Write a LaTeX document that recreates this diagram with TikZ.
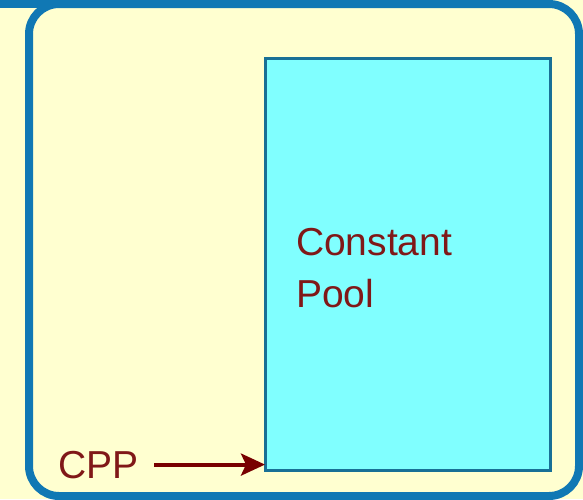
\documentclass[tikz,border=0pt]{standalone}
\usepackage{fontspec}
\setmainfont{Liberation Sans}
\usetikzlibrary{positioning,arrows.meta}
\definecolor{paper}{RGB}{255,255,208}
\definecolor{frameblue}{RGB}{16,120,180}
\definecolor{poolcyan}{RGB}{128,255,255}
\definecolor{pooledge}{RGB}{24,112,150}
\definecolor{darkred}{RGB}{128,24,24}
\definecolor{ptrred}{RGB}{120,0,0}

\begin{document}
\begin{tikzpicture}[x=1pt,y=-1pt,
  every node/.style={inner sep=0pt,outer sep=0pt},
  big/.style={font=\fontsize{39}{52}\selectfont,text=darkred,align=left},
  region/.style={draw=pooledge,line width=3pt,fill=poolcyan},
  ptr/.style={draw=ptrred,line width=4pt,-{Stealth[length=24pt,width=22pt,inset=5pt]}}]
\fill[paper] (0,0) rectangle (583,499);
\useasboundingbox (0,0) rectangle (583,499);

% outer frame
\draw[frameblue,line width=8pt,rounded corners=30pt]
  (29,250) -- (29,4) -- (579,4) -- (579,496) -- (29,496) -- cycle;
\draw[frameblue,line width=8pt] (0,4) -- (60,4);

% constant pool
\node[region,minimum width=285pt,minimum height=412pt,anchor=north west] (pool) at (265,58) {};
\node[big,anchor=north west] (poolname) at ([xshift=31pt,yshift=-170pt]pool.north west) {Constant\\Pool};

% CPP pointer
\node[big,anchor=base west] (cpp) at (58,478) {CPP};
\draw[ptr,shorten <=16pt] (cpp.east) -- (cpp.east -| pool.west);
\end{tikzpicture}
\end{document}
